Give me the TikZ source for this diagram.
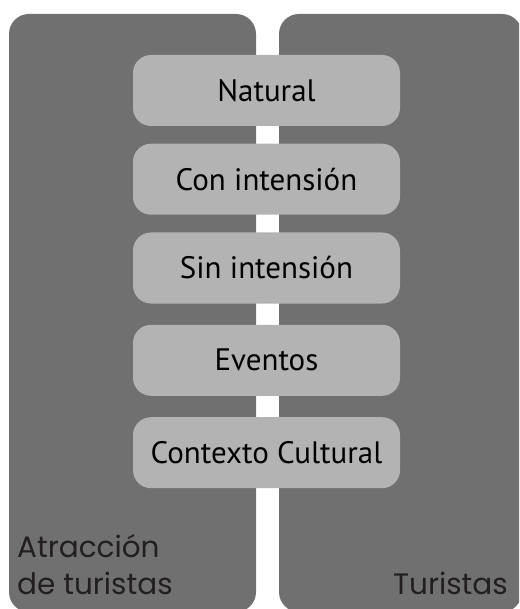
\documentclass[tikz,border=0pt]{standalone}
\usepackage{fontspec}
\setmainfont{PT Sans}
\newfontfamily\labfont{Poppins}
\definecolor{darkbg}{HTML}{6F706F}
\definecolor{lightbox}{HTML}{B3B3B3}
\definecolor{labtext}{HTML}{231F20}
\begin{document}
\begin{tikzpicture}[x=1pt,y=-1pt,
  panel/.style={fill=darkbg, draw=none, rounded corners=20pt},
  itembox/.style={fill=lightbox, draw=none, rounded corners=18pt, minimum width=267pt, minimum height=71pt, inner sep=0pt, font=\fontsize{31}{36}\selectfont, text=black},
  lab/.style={font=\labfont\fontsize{29.5}{37}\selectfont, text=labtext, inner sep=0pt}]
\useasboundingbox (0,0) rectangle (519,609);
\begin{scope}
\clip (0,0) rectangle (519,609);
\fill[panel] (9,14) rectangle (256,612);
\fill[panel] (279,14) rectangle (522,612);
\end{scope}
\node[itembox] (n1) at (266.5,90.5) {Natural};
\node[itembox] (n2) at (266.5,179.2) {Con intensión};
\node[itembox] (n3) at (266.5,268) {Sin intensión};
\node[itembox] (n4) at (266.5,360.3) {Eventos};
\node[itembox] (n5) at (266.5,452.7) {Contexto Cultural};
\node[lab, anchor=base west] (la) at (17,557) {Atracción};
\node[lab, anchor=base west] (lb) at (17,594) {de turistas};
\node[lab, anchor=base east] (lc) at (508,594) {Turistas};
\end{tikzpicture}
\end{document}
